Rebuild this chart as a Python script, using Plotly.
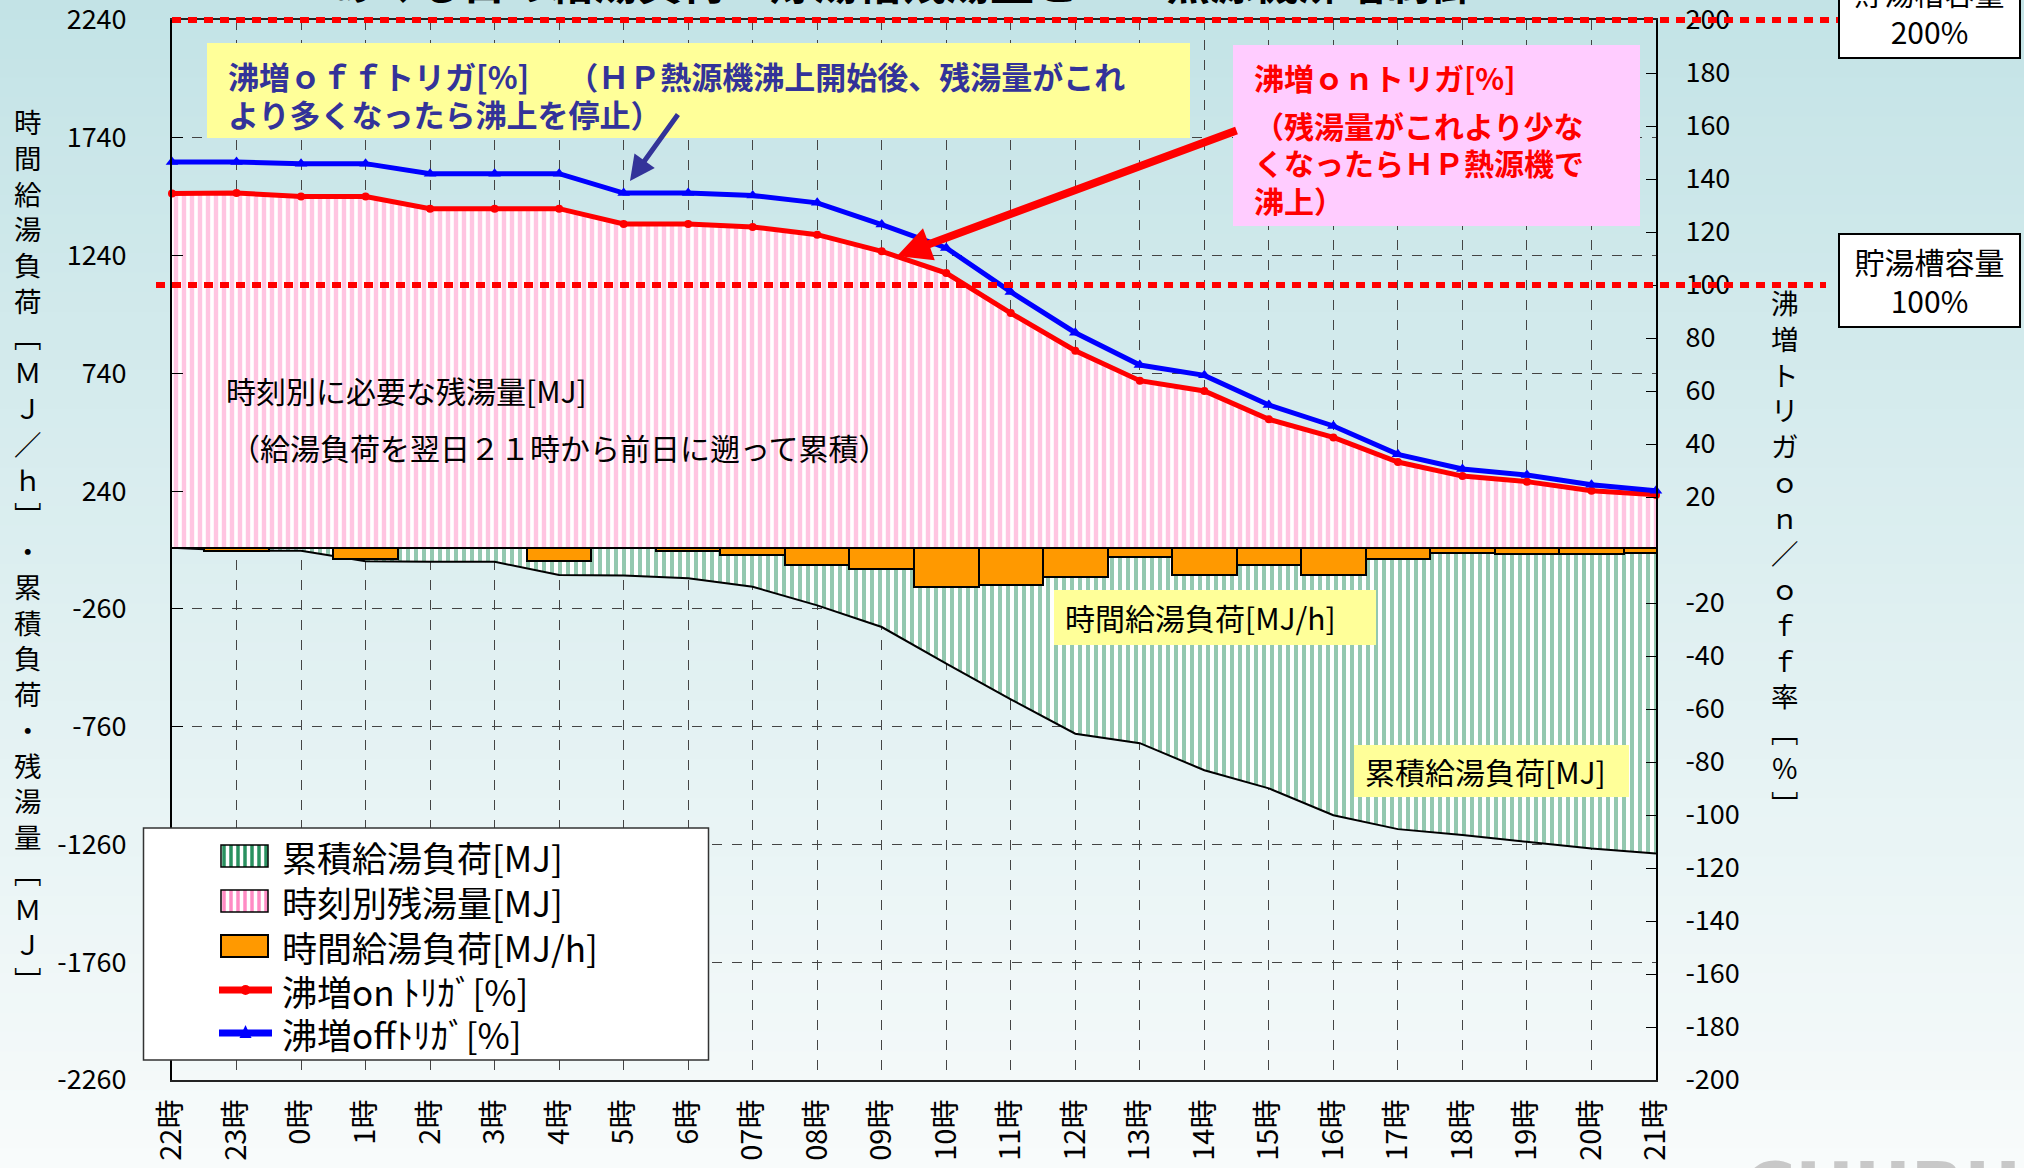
import plotly.graph_objects as go

# ---------------- data ----------------
hours = ["22時", "23時", "0時", "1時", "2時", "3時", "4時", "5時", "6時", "07時", "08時", "09時",
         "10時", "11時", "12時", "13時", "14時", "15時", "16時", "17時", "18時", "19時", "20時", "21時"]
hourly_load = [0, 13, 0, 48, 0, 0, 57, 0, 14, 31, 74, 91, 168, 158, 126, 38, 117, 74, 117, 48, 24, 26, 26, 22]
cumulative_load = [0, -13, -13, -58, -60, -60, -116, -118, -130, -166, -245, -337, -492, -644, -790, -830,
                   -945, -1022, -1136, -1195, -1220, -1249, -1277, -1298]
remaining_hot_water = [1501, 1504, 1489, 1489, 1437, 1437, 1437, 1372, 1372, 1360, 1327, 1256, 1164, 994,
                       835, 708, 664, 544, 468, 363, 303, 280, 242, 224]
on_trigger = [134.5, 134.7, 133.4, 133.4, 128.8, 128.8, 128.8, 123.0, 123.0, 121.9, 119.0, 112.7, 104.5,
              89.4, 75.2, 63.9, 60.0, 49.3, 42.5, 33.2, 27.9, 25.8, 22.4, 20.8]
off_trigger = [146.4, 146.4, 145.8, 145.8, 142.0, 142.0, 142.0, 134.7, 134.7, 133.8, 131.0, 122.8, 114.0,
               97.4, 82.0, 69.8, 65.9, 54.7, 46.8, 36.1, 30.6, 28.3, 24.6, 22.4]
series_names = ["累積給湯負荷[MJ]", "時刻別残湯量[MJ]", "時間給湯負荷[MJ/h]", "沸増on ﾄﾘｶﾞ[%]", "沸増offﾄﾘｶﾞ[%]"]
left_ticks = [2240, 1740, 1240, 740, 240, -260, -760, -1260, -1760, -2260]
right_ticks = [200, 180, 160, 140, 120, 100, 80, 60, 40, 20, -20, -40, -60, -80, -100, -120, -140, -160, -180, -200]
left_range = [-2260, 2240]
right_range = [-200, 200]
capacity_levels = [200, 100]
capacity_labels = ["200%", "100%"]

FONT = "Noto Sans CJK JP"
W, H = 2024, 1168
L, R, T, B = 172, 1656, 20, 1080

GREEN = "#2a9160"
PINK = "#ff8cc4"
ORANGE = "#ff9900"
RED = "#ff0000"
BLUE = "#0000ff"
NAVY = "#333399"


def fx(x):
    return (x - L) / (R - L)


def fy(y):
    return (B - y) / (B - T)


idx = list(range(len(hours)))

fig = go.Figure()

fig.add_trace(go.Scatter(
    x=idx, y=cumulative_load, name=series_names[0], mode="lines", fill="tozeroy",
    line=dict(color="black", width=2),
    fillpattern=dict(shape="|", fgcolor=GREEN, bgcolor="white", size=8, solidity=0.5),
    yaxis="y", showlegend=False))
fig.add_trace(go.Scatter(
    x=idx, y=remaining_hot_water, name=series_names[1], mode="lines", fill="tozeroy",
    line=dict(color=PINK, width=0),
    fillpattern=dict(shape="|", fgcolor=PINK, bgcolor="white", size=8, solidity=0.55),
    yaxis="y", showlegend=False))
fig.add_trace(go.Bar(
    x=idx, y=[-v for v in hourly_load], name=series_names[2], width=1,
    marker=dict(color=ORANGE, line=dict(color="black", width=2)),
    yaxis="y2", showlegend=False))
fig.add_trace(go.Scatter(
    x=idx, y=on_trigger, name=series_names[3], mode="lines+markers",
    line=dict(color=RED, width=5), marker=dict(symbol="circle", size=8, color=RED),
    cliponaxis=False, yaxis="y3", showlegend=False))
fig.add_trace(go.Scatter(
    x=idx, y=off_trigger, name=series_names[4], mode="lines+markers",
    line=dict(color=BLUE, width=5), marker=dict(symbol="triangle-up", size=11, color=BLUE),
    cliponaxis=False, yaxis="y3", showlegend=False))

# ---------------- background gradient ----------------
shapes = []
nb = 60
top_c = (195, 227, 230)
bot_c = (248, 251, 251)
for i in range(nb):
    t = (i + 0.5) / nb
    c = tuple(int(round(top_c[k] + (bot_c[k] - top_c[k]) * t)) for k in range(3))
    y0 = i * H / nb
    y1 = (i + 1) * H / nb + 1
    shapes.append(dict(type="rect", xref="paper", yref="paper", layer="below",
                       x0=fx(-2), x1=fx(W + 2), y0=fy(y1), y1=fy(y0),
                       fillcolor="rgb(%d,%d,%d)" % c, line=dict(width=0)))

# capacity dotted lines
cap_x = {200: (172, 1840), 100: (156, 1826)}
for lv in capacity_levels:
    yp = (lv - right_range[0]) / (right_range[1] - right_range[0])
    shapes.append(dict(type="line", xref="paper", yref="paper", layer="above",
                       x0=fx(cap_x[lv][0]), x1=fx(cap_x[lv][1]), y0=yp, y1=yp,
                       line=dict(color=RED, width=6, dash="9px,7px")))


def rect(x0, x1, y0, y1, color, line=None):
    shapes.append(dict(type="rect", xref="paper", yref="paper", layer="above",
                       x0=fx(x0), x1=fx(x1), y0=fy(y1), y1=fy(y0),
                       fillcolor=color, line=line if line else dict(width=0)))


def seg(x0, y0, x1, y1, color, width):
    shapes.append(dict(type="line", xref="paper", yref="paper", layer="above",
                       x0=fx(x0), x1=fx(x1), y0=fy(y0), y1=fy(y1),
                       line=dict(color=color, width=width)))


# colored note boxes
rect(207, 1190, 43, 138, "#ffff99")
rect(1233, 1640, 45, 226, "#ffccff")
rect(1054, 1376, 590, 645, "#ffff99")
rect(1354, 1629, 745, 797, "#ffff99")

# ---------------- custom legend ----------------
rect(143.5, 708.5, 828, 1060, "white", dict(color="#333333", width=1.5))
rows = [856, 901, 946, 990, 1033]
sx0, sx1 = 221, 268
for r, col in zip(rows[:2], [GREEN, PINK]):
    rect(sx0, sx1, r - 11, r + 11, "white")
    xs = sx0 + 3
    while xs < sx1 - 1:
        seg(xs, r - 11, xs, r + 11, col, 3.5)
        xs += 7
    rect(sx0, sx1, r - 11, r + 11, "rgba(0,0,0,0)", dict(color="black", width=1.5))
rect(sx0, sx1, rows[2] - 11, rows[2] + 11, ORANGE, dict(color="black", width=2))
seg(219, rows[3], 272, rows[3], RED, 7)
shapes.append(dict(type="circle", xref="paper", yref="paper", layer="above",
                   x0=fx(240.5), x1=fx(250.5), y0=fy(rows[3] + 5), y1=fy(rows[3] - 5),
                   fillcolor=RED, line=dict(width=0)))
seg(219, rows[4], 272, rows[4], BLUE, 7)
tri = "M %f,%f L %f,%f L %f,%f Z" % (fx(239.5), fy(rows[4] + 5), fx(251.5), fy(rows[4] + 5),
                                      fx(245.5), fy(rows[4] - 8))
shapes.append(dict(type="path", xref="paper", yref="paper", layer="above", path=tri,
                   fillcolor=BLUE, line=dict(width=0)))

annotations = []


def text(x, y, s, size=30, color="black", bold=False, xanchor="left"):
    annotations.append(dict(xref="paper", yref="paper", x=fx(x), y=fy(y), text=s,
                            showarrow=False, xanchor=xanchor, yanchor="middle",
                            font=dict(family=FONT, size=size, color=color,
                                      weight="bold" if bold else "normal")))


for r, nm in zip(rows, series_names):
    text(280, r, nm, 35)

text(226, 75, "沸増ｏｆｆトリガ[%]　 （ＨＰ熱源機沸上開始後、残湯量がこれ", 31, NAVY, True)
text(226, 113, "より多くなったら沸上を停止）", 31, NAVY, True)
text(1252, 77, "沸増ｏｎトリガ[%]", 30, RED, True)
text(1252, 125, "（残湯量がこれより少な", 30, RED, True)
text(1252, 162, "くなったらＨＰ熱源機で", 30, RED, True)
text(1252, 200, "沸上）", 30, RED, True)
text(224, 390, "時刻別に必要な残湯量[MJ]", 30)
text(228, 447, "（給湯負荷を翌日２１時から前日に遡って累積）", 30)
text(1063, 617, "時間給湯負荷[MJ/h]", 30)
text(1363, 771, "累積給湯負荷[MJ]", 30)

# arrows
annotations.append(dict(xref="paper", yref="paper", x=fx(630), y=fy(181), ax=49, ay=-68,
                        axref="pixel", ayref="pixel", text="", showarrow=True,
                        arrowhead=2, arrowsize=1.0, arrowwidth=5, arrowcolor=NAVY))
annotations.append(dict(xref="paper", yref="paper", x=fx(897), y=fy(256), ax=341, ay=-126,
                        axref="pixel", ayref="pixel", text="", showarrow=True,
                        arrowhead=2, arrowsize=0.85, arrowwidth=8, arrowcolor=RED))

# capacity boxes
cap_box_y = {200: 11.5, 100: 280.5}
for lv, lab in zip(capacity_levels, capacity_labels):
    annotations.append(dict(xref="paper", yref="paper", x=fx(1929.5), y=fy(cap_box_y[lv]),
                            text="貯湯槽容量<br>" + lab, showarrow=False,
                            xanchor="center", yanchor="middle", align="center",
                            width=179, height=91, borderpad=0, borderwidth=2,
                            bordercolor="black", bgcolor="white",
                            font=dict(family=FONT, size=30, color="black")))

# axis titles (stacked vertical text)
left_title = "時間給湯負荷﹇ＭＪ／ｈ﹈・累積負荷・残湯量﹇ＭＪ﹈"
right_title = "沸増トリガｏｎ／ｏｆｆ率﹇％﹈"
annotations.append(dict(xref="paper", yref="paper", x=fx(28), y=fy(550),
                        text="<br>".join(list(left_title)), showarrow=False,
                        xanchor="center", yanchor="middle", align="center",
                        font=dict(family=FONT, size=27.5, color="black")))
annotations.append(dict(xref="paper", yref="paper", x=fx(1785), y=fy(552),
                        text="<br>".join(list(right_title)), showarrow=False,
                        xanchor="center", yanchor="middle", align="center",
                        font=dict(family=FONT, size=27.5, color="black")))

# title (cut off at the top edge)
annotations.append(dict(xref="paper", yref="paper", x=fx(902), y=fy(-19),
                        text="あくる日の給湯負荷・貯湯槽残湯量とＨＰ熱源機沸増制御", showarrow=False,
                        xanchor="center", yanchor="middle",
                        font=dict(family=FONT, size=44, color="black", weight="bold")))
# faint watermark at bottom right (cut off)
annotations.append(dict(xref="paper", yref="paper", x=fx(1742), y=fy(1188),
                        text="CHUBU", showarrow=False, xanchor="left", yanchor="middle",
                        font=dict(family="DejaVu Sans", size=70, color="#c8c8c8", weight="bold")))

fig.update_layout(
    width=W, height=H, autosize=False,
    margin=dict(l=L, r=W - R, t=T, b=H - B, pad=0),
    paper_bgcolor="rgb(220,238,240)", plot_bgcolor="rgba(0,0,0,0)",
    font=dict(family=FONT, size=27, color="black"),
    showlegend=False,
    bargap=0,
    xaxis=dict(range=[0, 23], tickmode="array", tickvals=idx, ticktext=hours, tickangle=-90,
               tickfont=dict(family=FONT, size=29), ticks="", ticklabelstandoff=6,
               ticklabeloverflow="allow",
               showgrid=True, gridcolor="#444444", gridwidth=1, griddash="10px,10px",
               showline=True, linecolor="#222222", linewidth=2, mirror=True,
               zeroline=False, automargin=False),
    yaxis=dict(range=left_range, tickmode="array", tickvals=left_ticks,
               ticktext=[str(v) for v in left_ticks],
               tickfont=dict(family=FONT, size=27), ticks="inside", ticklen=11, tickwidth=1,
               tickcolor="black", ticklabelstandoff=38, ticklabeloverflow="allow",
               showgrid=True, gridcolor="#444444", gridwidth=1, griddash="10px,10px",
               zeroline=True, zerolinecolor="black", zerolinewidth=3,
               showline=True, linecolor="black", linewidth=2, layer="above traces",
               automargin=False),
    yaxis2=dict(range=left_range, overlaying="y", visible=False, showgrid=False, zeroline=False),
    yaxis3=dict(range=right_range, overlaying="y", side="right", tickmode="array",
                tickvals=right_ticks, ticktext=[str(v) for v in right_ticks],
                tickfont=dict(family=FONT, size=27), ticks="inside", ticklen=10, tickwidth=1,
                tickcolor="black", ticklabelstandoff=22, ticklabeloverflow="allow",
                showgrid=False, zeroline=False, showline=True, linecolor="black", linewidth=2,
                automargin=False),
    shapes=shapes,
    annotations=annotations,
)

fig.write_html("out.html",
               config={"displayModeBar": False},
               post_script="document.body.style.margin='0';document.body.style.padding='0';"
                           "document.body.style.overflow='hidden';")
